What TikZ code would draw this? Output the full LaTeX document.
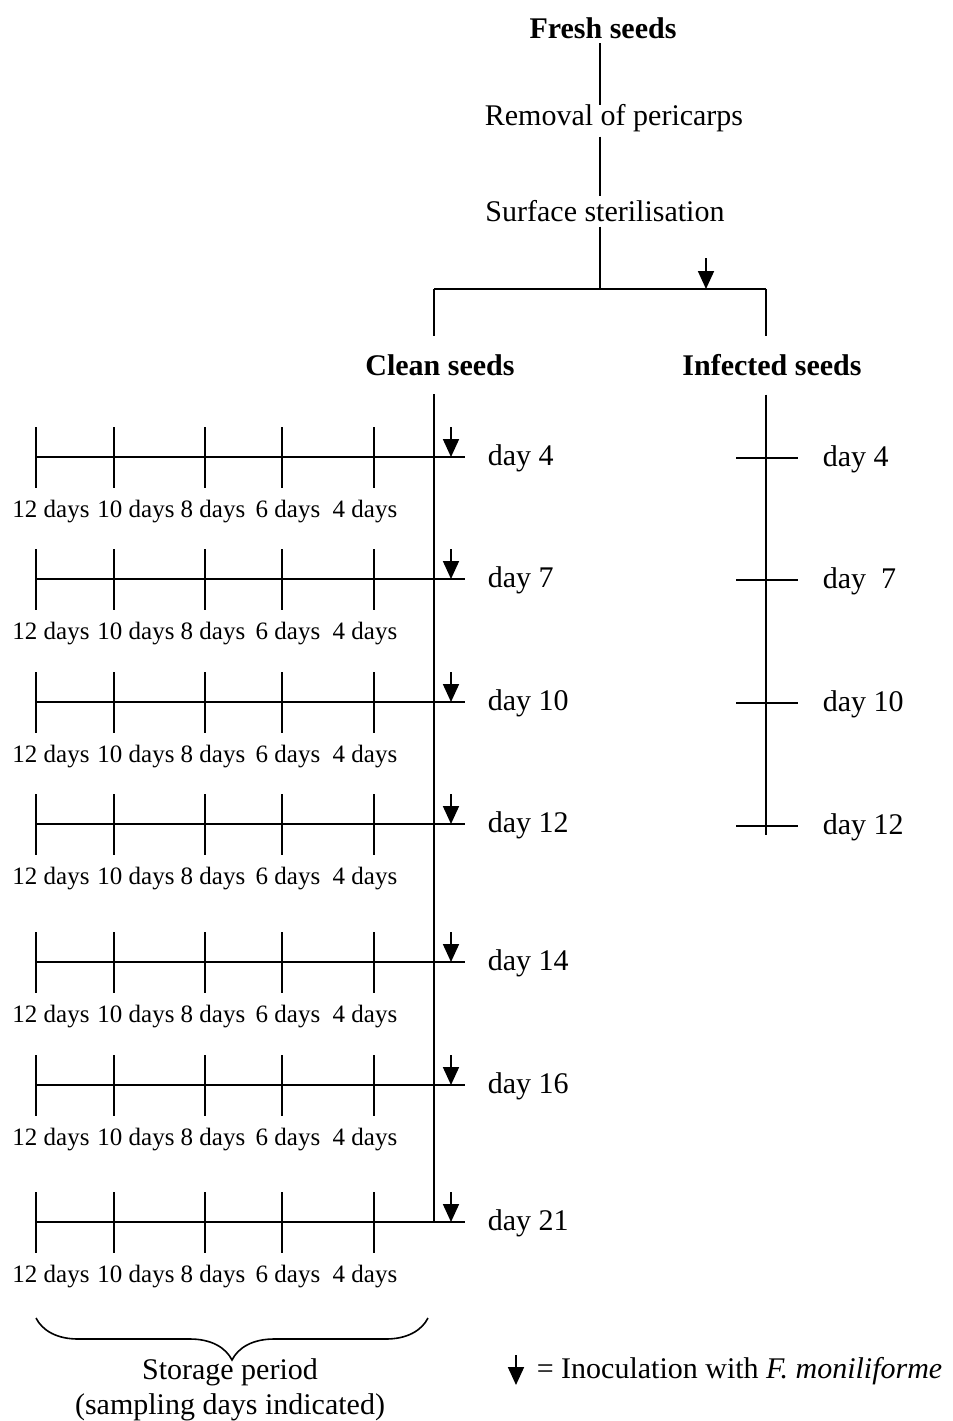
\documentclass[tikz,border=0pt]{standalone}
\usepackage{fontspec}
\setmainfont{Liberation Serif}
\usepackage{tikz}
\usetikzlibrary{arrows.meta,decorations.pathreplacing}

\begin{document}
\begin{tikzpicture}[
  x=0.5pt,y=-0.5pt,
  line width=0.8pt,
  lbl/.style={inner sep=2pt,font=\fontsize{15}{18}\selectfont},
  hd/.style={lbl,font=\fontsize{15}{18}\selectfont\bfseries},
  small/.style={inner sep=1pt,font=\fontsize{12.5}{15}\selectfont},
  inoc/.style={-{Triangle[width=8pt,length=9pt]},line width=0.9pt},
  row/.style={line width=1pt}
]
\useasboundingbox (0,0) rectangle (953,1421);
% top of the scheme
\node[hd] (fresh) at (603,28) {Fresh seeds};
\node[lbl] (removal) at (614,118) {Removal of pericarps};
\node[lbl] (steril) at (605,211) {Surface sterilisation};
\coordinate (split) at (600,289);
\coordinate (cl) at (434,289);
\coordinate (inf) at (766,289);
\coordinate (inoc0) at (706,289);
\draw (fresh.south -| split) -- ([yshift=-3pt]removal.north -| split);
\draw (removal.south -| split) -- (steril.north -| split);
\draw (steril.south -| split) -- (split);
\draw[row] (cl) -- (inf);
\draw[inoc] (inoc0) ++(0,-31) -- (inoc0);
\node[hd] (clean) at (440,365) {Clean seeds};
\node[hd] (infected) at (772,365) {Infected seeds};
\draw (cl) -- ([yshift=7pt]clean.north -| cl);
\draw (inf) -- ([yshift=7pt]infected.north -| inf);
% clean seeds
\coordinate (cend) at (434,1222);
\draw ([yshift=-7pt]clean.south -| cl) -- (cend);
\foreach \y/\d in {457/4,579/7,702/10,824/12,962/14,1085/16,1222/21}{
  \draw[row] (36,\y) -- (465,\y);
  \foreach \x in {36,114,205,282,374}
    \draw (\x,\y-30) -- (\x,\y+31);
  \draw[inoc] (451,\y-30) -- (451,\y);
  \node[lbl,anchor=west] (c\d) at (483,\y+1) {day \d};
  \foreach \x/\s [count=\i] in {51/12,136/10,213/8,288/6,365/4}
    \node[small] (t\d-\i) at (\x,\y+55) {\s{} days};
}
% infected seeds
\coordinate (iend) at (766,835);
\draw ([yshift=-7pt]infected.south -| inf) -- (iend);
\foreach \y/\d in {458/4,580/7,703/10,826/12}{
  \draw (736,\y) -- (798,\y);
  \node[lbl,anchor=west] (i\d) at (818,\y+1) {\ifnum\d=7 day~~7\else day \d\fi};
}
% storage brace and legend
\draw[decorate,decoration={brace,mirror,amplitude=21pt}] (36,1318) -- (428,1318);
\node[lbl,align=center,font=\fontsize{15}{17.5}\selectfont] (storage) at (230,1390) {Storage period\\(sampling days indicated)};
\coordinate (leg) at (516,1385);
\draw[inoc] (leg) ++(0,-30) -- (leg);
\node[lbl,anchor=west] (legend) at (532,1371) {= Inoculation with \textit{F. moniliforme}};
\end{tikzpicture}
\end{document}
